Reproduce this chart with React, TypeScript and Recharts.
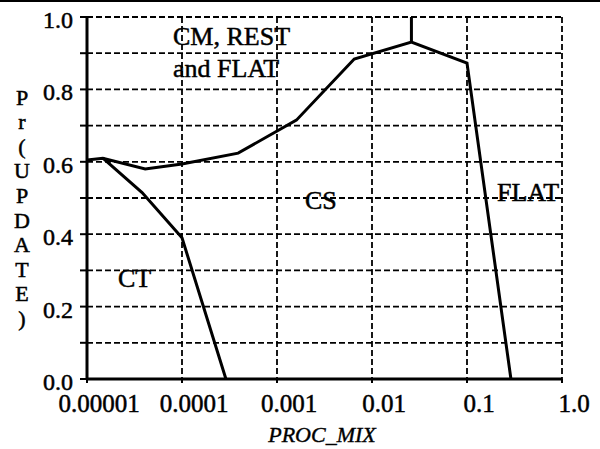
import React from "react";
import { LineChart, Line, XAxis, YAxis, CartesianGrid } from "recharts";

const xTicks = [0.00001, 0.0001, 0.001, 0.01, 0.1, 1];
const xTickLabels = ["0.00001", "0.0001", "0.001", "0.01", "0.1", "1.0"];
const yTicks = [0, 0.1, 0.2, 0.3, 0.4, 0.5, 0.6, 0.7, 0.8, 0.9, 1.0];
const yTickLabels = ["0.0", "", "0.2", "", "0.4", "", "0.6", "", "0.8", "", "1.0"];

const upperX = [0.00001, 0.0000147, 0.000041, 0.0001, 0.00039, 0.0016, 0.0065, 0.026, 0.1, 0.29];
const upperY = [0.605, 0.61, 0.58, 0.594, 0.624, 0.715, 0.884, 0.931, 0.873, 0];

const ctX = [0.0000147, 0.000038, 0.0001, 0.00029];
const ctY = [0.61, 0.515, 0.39, 0];

const errX = [0.026, 0.026];
const errY = [0.931, 1.0];

const yTitleLetters = ["P", "r", "(", "U", "P", "D", "A", "T", "E", ")"];

const toRows = (xs: number[], ys: number[]) => xs.map((x, i) => ({ x, y: ys[i] }));
const upperData = toRows(upperX, upperY);
const ctData = toRows(ctX, ctY);
const errData = toRows(errX, errY);

const FONT = "'Liberation Serif', 'DejaVu Serif', serif";
const fontStyle = (size: number, italic = false): React.CSSProperties => ({
  fontFamily: FONT,
  fontSize: size,
  fontStyle: italic ? "italic" : "normal",
});

const XTick = (props: any) => {
  const { x, y, payload } = props;
  const i = xTicks.indexOf(payload.value);
  return (
    <text x={x + 12} y={y + 27} textAnchor="middle" style={fontStyle(25)} fill="#000" stroke="#000" strokeWidth={0.5}>
      {i >= 0 ? xTickLabels[i] : ""}
    </text>
  );
};

const YTick = (props: any) => {
  const { x, y, payload } = props;
  const i = yTicks.findIndex((t) => Math.abs(t - payload.value) < 1e-9);
  return (
    <text x={x} y={y + 3} textAnchor="end" dominantBaseline="central" style={fontStyle(24)} fill="#000" stroke="#000" strokeWidth={0.5}>
      {i >= 0 ? yTickLabels[i] : ""}
    </text>
  );
};

export default function App() {
  return (
    <div style={{ position: "fixed", left: 0, top: 0, width: 600, height: 449, background: "#fff" }}>
      <div style={{ position: "absolute", left: 0, top: 0, width: 600, height: 2, background: "#000" }} />
      <LineChart width={600} height={449} margin={{ top: 17, right: 38, bottom: 0, left: 0 }}>
        <CartesianGrid stroke="#000" strokeWidth={1.8} strokeDasharray="6 3" />
        <XAxis
          dataKey="x"
          type="number"
          scale="log"
          domain={[0.00001, 1]}
          ticks={xTicks}
          allowDataOverflow
          height={70}
          tick={<XTick />}
          tickSize={4}
          tickMargin={2}
          axisLine={{ stroke: "#000", strokeWidth: 3 }}
          tickLine={{ stroke: "#000", strokeWidth: 2 }}
          interval={0}
        />
        <YAxis
          type="number"
          domain={[0, 1]}
          ticks={yTicks}
          width={87}
          tick={<YTick />}
          tickSize={7}
          tickMargin={7}
          axisLine={{ stroke: "#000", strokeWidth: 3 }}
          tickLine={{ stroke: "#000", strokeWidth: 2 }}
          interval={0}
        />
        <Line data={upperData} dataKey="y" stroke="#000" strokeWidth={3} dot={false} isAnimationActive={false} />
        <Line data={ctData} dataKey="y" stroke="#000" strokeWidth={3} dot={false} isAnimationActive={false} />
        <Line data={errData} dataKey="y" stroke="#000" strokeWidth={3} dot={false} isAnimationActive={false} />
      </LineChart>
      <svg width={600} height={449} style={{ position: "absolute", left: 0, top: 0, pointerEvents: "none" }}>
        <g style={fontStyle(26)} fill="#000" stroke="#000" strokeWidth={0.5}>
          <text x={173} y={45}>CM, REST</text>
          <text x={173} y={77}>and FLAT</text>
          <text x={305} y={209}>CS</text>
          <text x={497} y={201}>FLAT</text>
          <text x={118} y={287}>CT</text>
        </g>
        <text x={322} y={442} textAnchor="middle" style={fontStyle(22, true)} fill="#000" stroke="#000" strokeWidth={0.4}>
          PROC_MIX
        </text>
        <g style={fontStyle(22)} fill="#000" stroke="#000" strokeWidth={0.5}>
          {yTitleLetters.map((ch, i) => (
            <text key={i} x={22} y={97 + i * 24.6} textAnchor="middle" dominantBaseline="central">
              {ch}
            </text>
          ))}
        </g>
      </svg>
    </div>
  );
}
